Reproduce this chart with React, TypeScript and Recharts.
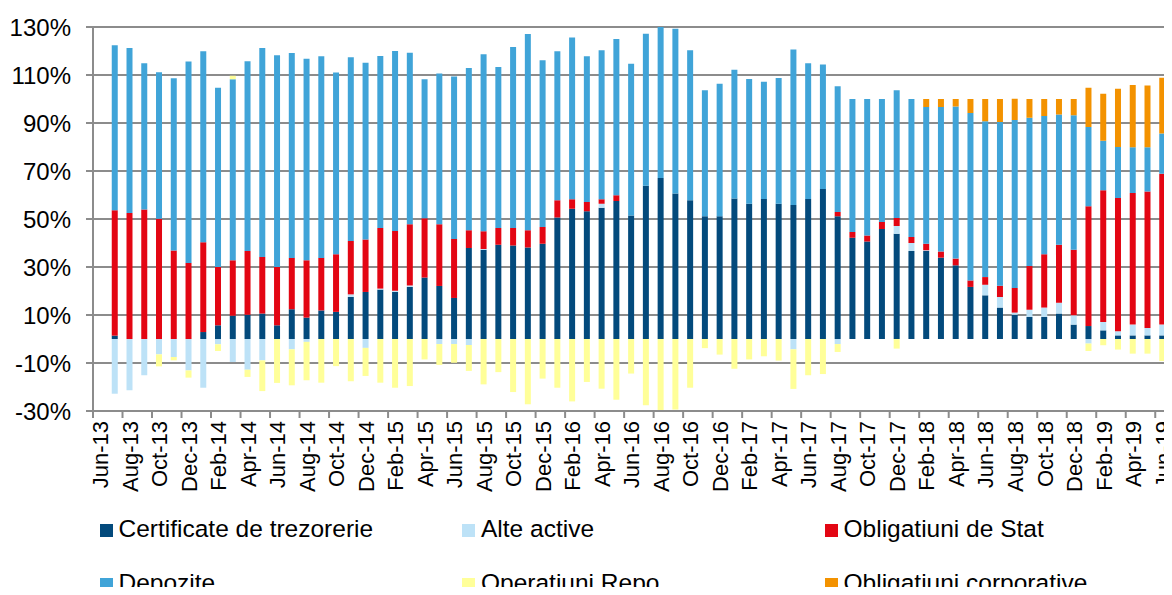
import React from "react";
import { BarChart, Bar, XAxis, YAxis, CartesianGrid, Legend } from "recharts";

const months = [
  "Jun-13","Jul-13","Aug-13","Sep-13","Oct-13","Nov-13","Dec-13",
  "Jan-14","Feb-14","Mar-14","Apr-14","May-14","Jun-14","Jul-14","Aug-14","Sep-14","Oct-14","Nov-14","Dec-14",
  "Jan-15","Feb-15","Mar-15","Apr-15","May-15","Jun-15","Jul-15","Aug-15","Sep-15","Oct-15","Nov-15","Dec-15",
  "Jan-16","Feb-16","Mar-16","Apr-16","May-16","Jun-16","Jul-16","Aug-16","Sep-16","Oct-16","Nov-16","Dec-16",
  "Jan-17","Feb-17","Mar-17","Apr-17","May-17","Jun-17","Jul-17","Aug-17","Sep-17","Oct-17","Nov-17","Dec-17",
  "Jan-18","Feb-18","Mar-18","Apr-18","May-18","Jun-18","Jul-18","Aug-18","Sep-18","Oct-18","Nov-18","Dec-18",
  "Jan-19","Feb-19","Mar-19","Apr-19","May-19","Jun-19",
];

const certificate = [
  null, 1.4, 0, 0, 0, 0, 0,
  2.9, 5.7, 9.7, 10.1, 10.6, 5.7, 12.4, 8.9, 11.9, 11.3, 17.5, 19.6,
  20.6, 19.6, 21.7, 25.6, 22.1, 17.1, 37.9, 37.2, 39.3, 39.0, 38.1, 39.7,
  50.6, 54.3, 53.2, 54.7, 57.5, 51.5, 63.9, 67.1, 60.6, 57.8, 51.1, 51.1,
  58.5, 56.4, 58.3, 56.4, 55.8, 58.3, 62.5, 51.1, 42.2, 40.6, 45.8, 43.9,
  36.7, 36.7, 33.9, 30.7, 21.7, 18.2, 13.1, 10.1, 9.2, 9.2, 10.6, 6.0,
  5.4, 3.6, 1.5, 1.5, 1.5, 1.5,
];

const alteActive = [
  null, -22.8, -21.4, -15.1, -6.4, -7.5, -13.1,
  -20.3, -2.2, -9.6, -12.8, -8.9, 0, -4.3, -1.2, 0, 0, 1.1, -3.7,
  0.4, 0.5, 0.6, 0, -2.1, -2.1, -2.5, 0.3, 0, 0, 0, 0,
  0, 0, 0, 1.7, 0, 0, 0, 0, 0, 0, 0, 0,
  0, 0, 0, 0, -4.3, 0, 0, -2.1, 0, 0, 0, 3.2,
  3.3, 0.3, 0, 0, 0, 4.4, 4.4, 0.9, 3.0, 3.9, 4.5, 3.9,
  -1.9, 3.5, 1.7, 4.5, 3.1, 4.5,
];

const obligatiuniStat = [
  null, 52.2, 52.5, 54.0, 50.1, 36.9, 31.7,
  37.4, 24.3, 23.1, 26.6, 23.6, 24.3, 21.4, 23.9, 21.9, 24.0, 22.2, 21.9,
  25.3, 24.9, 25.5, 24.7, 25.7, 24.6, 7.4, 7.4, 6.9, 7.2, 7.2, 7.0,
  7.2, 3.9, 3.9, 1.8, 2.4, 0, 0, 0, 0, 0, 0, 0,
  0, 0, 0, 0, 0, 0, 0, 1.8, 2.4, 2.5, 2.9, 3.3,
  2.5, 2.7, 2.6, 2.8, 2.7, 3.2, 4.7, 10.3, 18.2, 22.2, 24.2, 27.3,
  49.9, 54.9, 55.6, 54.8, 56.9, 62.9,
];

const depozite = [
  null, 68.8, 68.8, 60.9, 61.0, 71.7, 83.9,
  79.6, 74.7, 75.4, 79.0, 87.1, 88.2, 85.4, 84.0, 84.0, 75.7, 76.6, 73.6,
  71.6, 75.0, 71.5, 57.9, 62.8, 67.7, 67.6, 73.7, 67.1, 75.5, 81.8, 69.4,
  62.1, 67.4, 60.7, 62.1, 65.1, 63.2, 63.3, 63.2, 68.7, 62.5, 52.5, 55.3,
  53.7, 51.9, 48.9, 52.4, 64.8, 56.6, 51.9, 52.4, 55.4, 56.9, 51.3, 53.2,
  57.5, 57.0, 60.2, 63.4, 69.8, 64.9, 68.2, 70.0, 61.8, 57.6, 54.2, 56.0,
  33.0, 20.6, 21.2, 19.1, 18.4, 16.7,
];

const operatiuniRepo = [
  null, 0, 0, 0, -5.0, -1.4, -3.0,
  0, -2.8, 1.5, -3.0, -12.8, -18.3, -15.0, -16.0, -18.2, -11.3, -17.6, -11.7,
  -18.2, -20.3, -19.6, -8.5, -8.7, -7.8, -10.8, -18.9, -13.8, -22.1, -27.2, -16.5,
  -20.3, -26.0, -17.9, -20.7, -25.3, -14.4, -27.6, -31.1, -29.4, -20.3, -3.8, -6.5,
  -12.4, -8.5, -7.2, -9.0, -16.5, -15.1, -14.6, -3.3, 0, 0, 0, -4.0,
  0, 0, 0, 0, 0, 0, 0, 0, 0, 0, 0, 0,
  -3.1, -2.6, -4.4, -6.1, -6.1, -9.2,
];

const obligatiuniCorporative = [
  null, 0, 0, 0, 0, 0, 0,
  0, 0, 0, 0, 0, 0, 0, 0, 0, 0, 0, 0,
  0, 0, 0, 0, 0, 0, 0, 0, 0, 0, 0, 0,
  0, 0, 0, 0, 0, 0, 0, 0, 0, 0, 0, 0,
  0, 0, 0, 0, 0, 0, 0, 0, 0, 0, 0, 0,
  0, 3.3, 3.3, 3.1, 5.8, 9.3, 9.6, 8.8, 7.8, 7.1, 6.5, 6.8,
  16.4, 19.6, 24.3, 25.9, 25.7, 23.3,
];

const yTicks = [-30, -10, 10, 30, 50, 70, 90, 110, 130];

const series = [
  { key: "cert", name: "Certificate de trezorerie", color: "#034A7C" },
  { key: "alte", name: "Alte active", color: "#BDE2F7" },
  { key: "stat", name: "Obligatiuni de Stat", color: "#E30613" },
  { key: "depo", name: "Depozite", color: "#40A4D8" },
  { key: "repo", name: "Operatiuni Repo", color: "#FFFF99" },
  { key: "corp", name: "Obligatiuni corporative", color: "#F39200" },
];

const data = months.map((m, i) => ({
  month: m,
  cert: certificate[i],
  alte: alteActive[i],
  stat: obligatiuniStat[i],
  depo: depozite[i],
  repo: operatiuniRepo[i],
  corp: obligatiuniCorporative[i],
}));

const FONT = "Arial, 'Liberation Sans', sans-serif";
const GRID = "#8c8c8c";
const TICK = 7;
const GAP = 3;

const XTick = (props: any) => {
  const { x, y, payload } = props;
  const off = payload && typeof payload.offset === "number" ? payload.offset : 7.4;
  const lx = x - off;
  return (
    <g>
      <line x1={lx} y1={y - GAP - TICK} x2={lx} y2={y - GAP} stroke={GRID} strokeWidth={2} />
      <text
        x={x}
        y={y}
        dy="0.36em"
        textAnchor="end"
        transform={`rotate(-90, ${x}, ${y})`}
        fontFamily={FONT}
        fontSize={22}
        fill="#000"
      >
        {payload.value}
      </text>
    </g>
  );
};

const LegendContent = () => {
  return (
    <div style={{ position: "relative", width: 1172, height: 95, fontFamily: FONT, fontSize: 24.5, color: "#000" }}>
      {series.map((s, i) => {
        const left = 99.5 + (i % 3) * 362.5;
        const row = i < 3 ? 0 : 1;
        return (
          <React.Fragment key={s.key}>
            <span
              style={{
                position: "absolute",
                left,
                top: 24 + row * 54,
                width: 13,
                height: 13,
                background: s.color,
              }}
            />
            <span
              style={{
                position: "absolute",
                left: left + 19,
                top: 16 + row * 54,
                lineHeight: "25px",
                whiteSpace: "nowrap",
              }}
            >
              {s.name}
            </span>
          </React.Fragment>
        );
      })}
    </div>
  );
};

export default function App() {
  return (
    <div style={{ margin: -8, width: 1172, height: 595, background: "#fff" }}>
      <BarChart
        width={1172}
        height={595}
        data={data}
        stackOffset="sign"
        margin={{ top: 27, right: 2, left: 0, bottom: 0 }}
      >
        <CartesianGrid vertical={false} stroke={GRID} strokeWidth={2} />
        <XAxis
          dataKey="month"
          interval={1}
          height={89}
          tickLine={false}
          tickSize={TICK}
          tickMargin={GAP}
          axisLine={{ stroke: GRID, strokeWidth: 2 }}
          tick={<XTick />}
        />
        <YAxis
          width={93}
          type="number"
          domain={[-30, 130]}
          ticks={yTicks}
          allowDataOverflow
          interval={0}
          tickFormatter={(v: number) => `${v}%`}
          tickSize={TICK}
          tickMargin={15}
          tickLine={{ stroke: GRID, strokeWidth: 2 }}
          axisLine={{ stroke: GRID, strokeWidth: 2 }}
          tick={{ fontFamily: FONT, fontSize: 24, fill: "#000" }}
        />
        <Legend
          verticalAlign="bottom"
          height={95}
          wrapperStyle={{ left: 0, bottom: 0, width: 1172, height: 95 }}
          content={<LegendContent />}
        />
        {series.map((s) => (
          <Bar
            key={s.key}
            dataKey={s.key}
            name={s.name}
            stackId="a"
            fill={s.color}
            barSize={6}
            isAnimationActive={false}
          />
        ))}
      </BarChart>
    </div>
  );
}
